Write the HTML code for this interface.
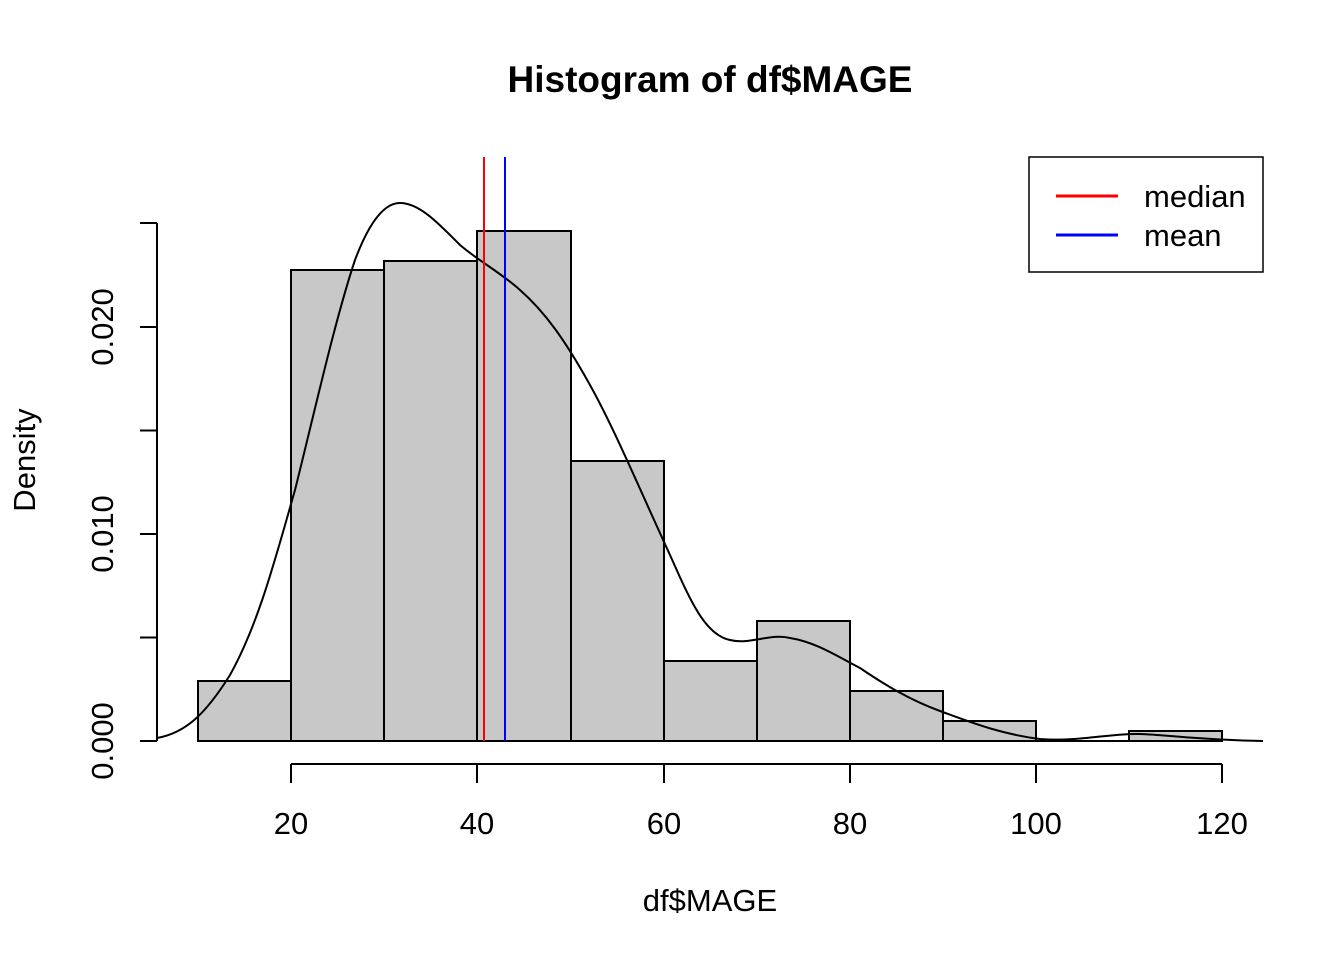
<!DOCTYPE html><html><head><style>body{margin:0;background:#fff}svg{display:block}text{font-family:"Liberation Sans",Arial,sans-serif;fill:#000}</style></head><body>
<svg width="1344" height="960" xmlns="http://www.w3.org/2000/svg">
<text x="710" y="92" font-size="37" font-weight="bold" text-anchor="middle">Histogram of df$MAGE</text>
<g fill="#c8c8c8" stroke="#000" stroke-width="2">
<rect x="198" y="681" width="93" height="60"/>
<rect x="291" y="270" width="93" height="471"/>
<rect x="384" y="261" width="93" height="480"/>
<rect x="477" y="231" width="94" height="510"/>
<rect x="571" y="461" width="93" height="280"/>
<rect x="664" y="661" width="93" height="80"/>
<rect x="757" y="621" width="93" height="120"/>
<rect x="850" y="691" width="93" height="50"/>
<rect x="943" y="721" width="93" height="20"/>
<line x1="1036" y1="741" x2="1129" y2="741"/>
<rect x="1129" y="731" width="93" height="10"/>
</g>
<path d="M157,738 C185,733 205,715 230,675 C258,625 275,560 295,490 C315,410 335,320 355,260 C370,220 385,203 400,203 C420,203 440,225 460,245 C480,262 500,272 520,290 C545,312 565,340 590,385 C615,430 640,490 670,555 C690,600 705,635 730,640 C750,645 770,633 790,638 C815,642 835,655 860,668 C885,685 910,700 940,711 C970,722 1000,734 1040,739 C1080,742 1110,733 1140,734 C1170,735 1200,740 1263,741" fill="none" stroke="#000" stroke-width="2"/>
<line x1="484" y1="157" x2="484" y2="741" stroke="#f00" stroke-width="2"/>
<line x1="505" y1="157" x2="505" y2="741" stroke="#00f" stroke-width="2"/>
<g stroke="#000" stroke-width="2" fill="none">
<line x1="157" y1="223" x2="157" y2="741"/>
<line x1="140" y1="741" x2="157" y2="741"/><line x1="140" y1="637.5" x2="157" y2="637.5"/><line x1="140" y1="534" x2="157" y2="534"/><line x1="140" y1="430.5" x2="157" y2="430.5"/><line x1="140" y1="327" x2="157" y2="327"/><line x1="140" y1="223" x2="157" y2="223"/>
<line x1="291" y1="764" x2="1222" y2="764"/>
<line x1="291" y1="764" x2="291" y2="783"/><line x1="477" y1="764" x2="477" y2="783"/><line x1="664" y1="764" x2="664" y2="783"/><line x1="850" y1="764" x2="850" y2="783"/><line x1="1036" y1="764" x2="1036" y2="783"/><line x1="1222" y1="764" x2="1222" y2="783"/>
<rect x="1029" y="157" width="234" height="115" stroke-width="1.5"/>
</g>
<g font-size="31" text-anchor="middle">
<text x="291" y="834">20</text><text x="477" y="834">40</text><text x="664" y="834">60</text><text x="850" y="834">80</text><text x="1036" y="834">100</text><text x="1222" y="834">120</text>
<text x="710" y="911">df$MAGE</text>
<text transform="translate(113,741) rotate(-90)">0.000</text>
<text transform="translate(113,534) rotate(-90)">0.010</text>
<text transform="translate(113,327) rotate(-90)">0.020</text>
<text transform="translate(35,460) rotate(-90)">Density</text>
</g>
<line x1="1056" y1="196" x2="1118" y2="196" stroke="#f00" stroke-width="3"/>
<line x1="1056" y1="235" x2="1118" y2="235" stroke="#00f" stroke-width="3"/>
<text x="1144" y="207" font-size="31">median</text>
<text x="1144" y="246" font-size="31">mean</text>
</svg></body></html>
